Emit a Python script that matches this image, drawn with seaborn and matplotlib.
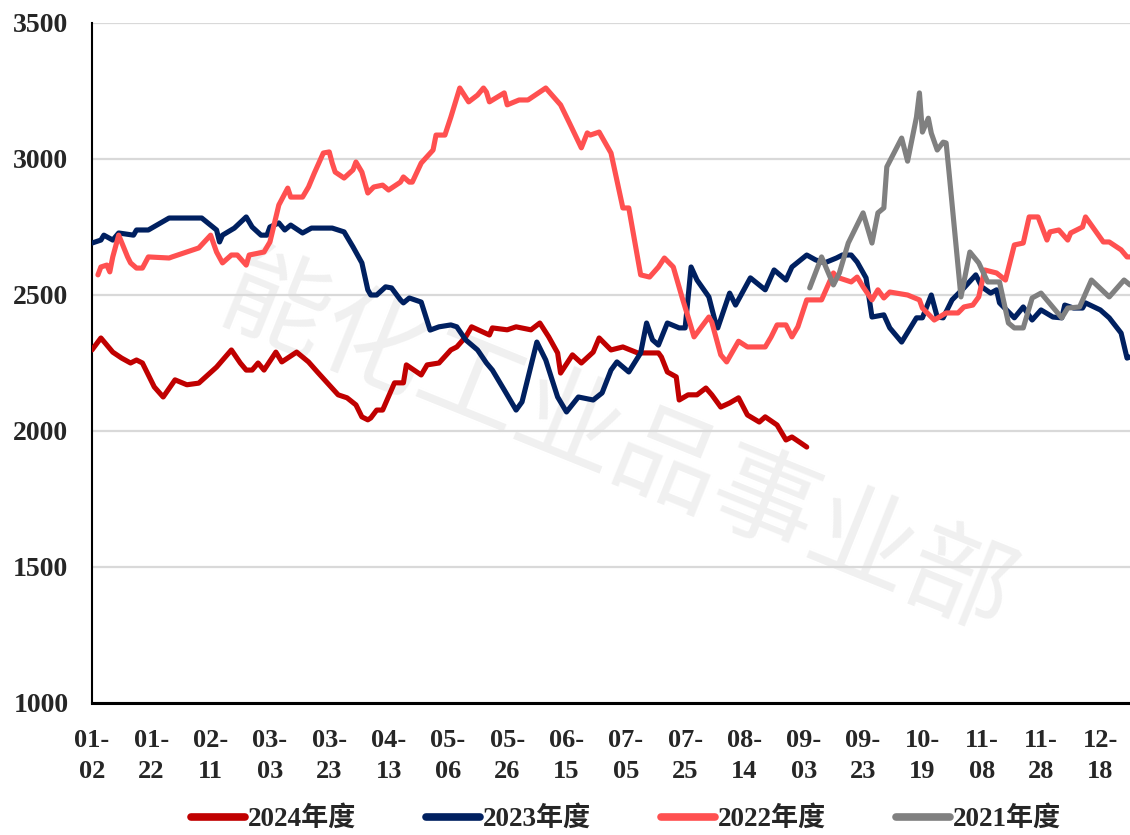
import numpy as np
import pandas as pd
import matplotlib
matplotlib.use('Agg')
import matplotlib.pyplot as plt
from matplotlib.lines import Line2D
import seaborn as sns

# x轴：以 01-02 为起点的天数，刻度每 20 天一个
tick_days = list(range(0, 341, 20))
tick_labels = ['01-\n02', '01-\n22', '02-\n11', '03-\n03', '03-\n23', '04-\n13',
               '05-\n06', '05-\n26', '06-\n15', '07-\n05', '07-\n25', '08-\n14',
               '09-\n03', '09-\n23', '10-\n19', '11-\n08', '11-\n28', '12-\n18']

day_2024 = [0, 3, 7, 10, 13, 15, 17, 21, 24, 28, 32, 36, 42, 47, 50, 52, 54, 56, 58, 62,
            64, 69, 73, 76, 83, 86, 89, 91, 93, 94, 96, 98, 102, 105, 106, 111, 113, 117,
            121, 123, 126, 128, 134, 135, 140, 143, 148, 151, 154, 157, 158, 162, 165, 169,
            171, 175, 179, 184, 191, 192, 194, 197, 198, 201, 204, 207, 209, 212, 215, 218,
            221, 225, 227, 231, 234, 236, 239, 241]
val_2024 = [2298, 2342, 2290, 2268, 2250, 2261, 2250, 2162, 2125, 2188, 2170, 2176, 2235,
            2298, 2250, 2224, 2224, 2250, 2224, 2290, 2254, 2290, 2254, 2217, 2133, 2122,
            2096, 2052, 2041, 2048, 2077, 2077, 2177, 2177, 2243, 2206, 2243, 2250, 2298,
            2309, 2346, 2383, 2353, 2379, 2372, 2383, 2372, 2397, 2346, 2287, 2213, 2280,
            2250, 2290, 2342, 2298, 2309, 2287, 2287, 2272, 2217, 2199, 2114, 2133, 2133,
            2158, 2133, 2088, 2103, 2122, 2059, 2033, 2052, 2022, 1967, 1978, 1956, 1941]

day_2023 = [0, 3, 4, 7, 9, 14, 15, 19, 26, 37, 42, 43, 44, 48, 52, 54, 57, 59, 60, 63, 65,
            67, 71, 74, 81, 85, 88, 91, 93, 94, 96, 99, 101, 104, 105, 107, 111, 114, 117,
            121, 123, 126, 130, 133, 135, 139, 143, 145, 150, 153, 157, 160, 164, 169, 172,
            175, 177, 181, 185, 187, 189, 191, 194, 198, 200, 202, 204, 208, 210, 211, 215,
            217, 222, 227, 230, 234, 236, 241, 244, 247, 251, 253, 256, 258, 261, 263, 267,
            269, 273, 278, 280, 283, 285, 287, 290, 294, 298, 300, 303, 305, 306, 311, 314,
            317, 320, 324, 327, 328, 331, 334, 335, 340, 343, 347, 349, 350]
val_2023 = [2691, 2702, 2720, 2702, 2728, 2720, 2739, 2739, 2783, 2783, 2739, 2695, 2720,
            2746, 2787, 2750, 2720, 2720, 2750, 2765, 2739, 2757, 2728, 2746, 2746, 2732,
            2677, 2618, 2519, 2500, 2500, 2530, 2526, 2482, 2471, 2489, 2474, 2371, 2383,
            2390, 2383, 2335, 2298, 2250, 2224, 2151, 2077, 2107, 2327, 2261, 2125, 2070,
            2125, 2114, 2140, 2224, 2254, 2217, 2287, 2397, 2335, 2316, 2397, 2379, 2379,
            2603, 2555, 2493, 2408, 2379, 2507, 2463, 2563, 2519, 2592, 2555, 2603, 2647,
            2629, 2618, 2636, 2647, 2647, 2621, 2563, 2419, 2427, 2379, 2327, 2416, 2416,
            2500, 2419, 2416, 2482, 2526, 2574, 2530, 2507, 2519, 2471, 2416, 2456, 2408,
            2445, 2419, 2416, 2463, 2452, 2452, 2471, 2445, 2416, 2360, 2268, 2272]

day_2022 = [2, 3, 5, 6, 7, 9, 12, 13, 15, 17, 19, 26, 27, 36, 40, 42, 44, 47, 49, 52, 53,
            58, 60, 63, 66, 67, 71, 73, 75, 78, 80, 81, 82, 85, 88, 89, 91, 93, 95, 98, 100,
            104, 105, 107, 108, 111, 115, 116, 119, 121, 124, 127, 130, 132, 133, 134, 139,
            140, 144, 147, 153, 158, 161, 165, 167, 168, 171, 175, 179, 181, 185, 188, 191,
            193, 196, 199, 201, 203, 208, 209, 212, 214, 218, 221, 227, 229, 231, 234, 236,
            238, 241, 246, 250, 251, 256, 258, 260, 263, 265, 267, 269, 275, 279, 280, 284,
            288, 292, 294, 297, 299, 301, 305, 308, 311, 314, 316, 319, 322, 323, 326, 329,
            330, 334, 335, 341, 343, 347, 349, 350]
val_2022 = [2574, 2603, 2610, 2585, 2640, 2720, 2640, 2618, 2599, 2599, 2640, 2636, 2640,
            2673, 2720, 2658, 2618, 2647, 2647, 2610, 2647, 2658, 2695, 2831, 2893, 2860,
            2860, 2897, 2949, 3022, 3026, 2985, 2952, 2930, 2960, 2989, 2952, 2875, 2897,
            2904, 2886, 2915, 2934, 2915, 2915, 2985, 3033, 3088, 3088, 3154, 3261, 3210,
            3235, 3261, 3246, 3210, 3243, 3199, 3217, 3217, 3261, 3199, 3132, 3041, 3096,
            3088, 3099, 3022, 2820, 2820, 2574, 2566, 2603, 2636, 2603, 2490, 2419, 2346,
            2419, 2400, 2280, 2254, 2330, 2309, 2309, 2346, 2390, 2390, 2346, 2383, 2482,
            2482, 2581, 2566, 2548, 2566, 2530, 2482, 2519, 2489, 2511, 2500, 2482, 2452,
            2408, 2434, 2434, 2456, 2463, 2493, 2592, 2581, 2555, 2684, 2691, 2787, 2787,
            2702, 2732, 2739, 2702, 2728, 2750, 2787, 2695, 2695, 2666, 2640, 2640]

day_2021 = [242, 246, 250, 252, 255, 260, 263, 265, 267, 268, 273, 275, 278, 279, 280, 282,
            283, 285, 287, 288, 289, 293, 296, 299, 302, 306, 309, 311, 314, 317, 320, 327,
            329, 333, 337, 343, 348, 350]
val_2021 = [2526, 2640, 2537, 2581, 2691, 2802, 2691, 2802, 2820, 2971, 3077, 2992, 3154,
            3243, 3099, 3150, 3095, 3033, 3062, 3059, 2949, 2493, 2658, 2618, 2548, 2548,
            2397, 2379, 2379, 2489, 2507, 2416, 2452, 2456, 2555, 2493, 2555, 2537]

years = ['2024年度', '2023年度', '2022年度', '2021年度']
colors = ['#C00000', '#002060', '#FF5050', '#808080']

df = pd.concat([
    pd.DataFrame({'day': day_2024, 'price': val_2024, 'year': years[0]}),
    pd.DataFrame({'day': day_2023, 'price': val_2023, 'year': years[1]}),
    pd.DataFrame({'day': day_2022, 'price': val_2022, 'year': years[2]}),
    pd.DataFrame({'day': day_2021, 'price': val_2021, 'year': years[3]}),
], ignore_index=True)

sns.set_style('white')
plt.rcParams['font.family'] = ['Liberation Serif', 'Noto Sans CJK SC']

fig = plt.figure(figsize=(11.3, 8.35), dpi=100)
ax = fig.add_axes([92 / 1130, 1 - 703 / 835, 1 - 92 / 1130, 680 / 835])

# 水印
ax.text(0.506, 0.375, '能化工业品事业部', transform=ax.transAxes, fontsize=76,
        color='#F0F0F0', rotation=-22, rotation_mode='anchor', ha='center', va='center',
        family='Noto Sans CJK SC', zorder=0)

sns.lineplot(data=df, x='day', y='price', hue='year', hue_order=years,
             palette=dict(zip(years, colors)), linewidth=3.7, legend=False,
             estimator=None, sort=False, ax=ax, zorder=3)

ax.set_xlim(0, 350)
ax.set_ylim(1000, 3500)
ax.set_yticks(range(1000, 3501, 500))
ax.set_xticks(tick_days)
ax.set_xticklabels(tick_labels, fontsize=19, fontweight='bold', linespacing=1.45)
ax.set_yticklabels([str(v) for v in range(1000, 3501, 500)], fontsize=20, fontweight='bold')
ax.tick_params(axis='both', length=0)
ax.tick_params(axis='x', pad=19)
ax.tick_params(axis='y', pad=17)
ax.yaxis.grid(True, color='#D9D9D9', linewidth=1.6, zorder=1)
ax.xaxis.grid(False)
ax.set_axisbelow(True)
ax.set_xlabel('')
ax.set_ylabel('')
for s in ['top', 'right']:
    ax.spines[s].set_visible(False)
ax.spines['left'].set_color('black')
ax.spines['left'].set_linewidth(1.5)
ax.spines['bottom'].set_color('black')
ax.spines['bottom'].set_linewidth(2.2)

handles = [Line2D([0], [0], color=c, linewidth=5.5) for c in colors]
fig.legend(handles, years, loc='center', bbox_to_anchor=(0.554, 0.019), ncol=4,
           frameon=False, handlelength=2.0, handletextpad=0.08, columnspacing=2.6,
           borderpad=0.2,
           prop={'family': ['Liberation Serif', 'Noto Sans CJK SC'], 'weight': 'bold', 'size': 19.5})

fig.savefig('out.png', dpi=100)
